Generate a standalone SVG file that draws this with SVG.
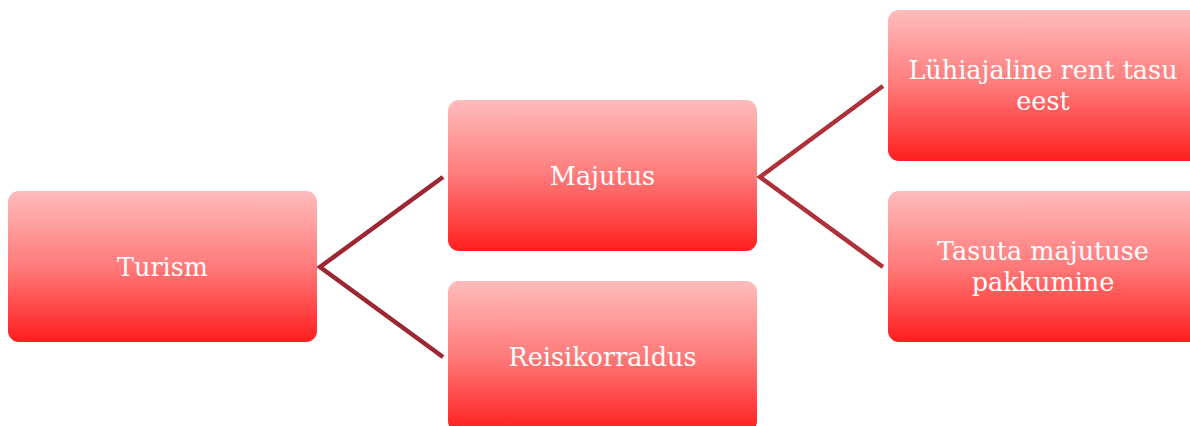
<svg xmlns="http://www.w3.org/2000/svg" width="1190" height="426" viewBox="0 0 1190 426">
<defs>
<linearGradient id="g" x1="0" y1="0" x2="0" y2="1">
<stop offset="0" stop-color="#ffbcbc"/>
<stop offset="0.5" stop-color="#ff7a7a"/>
<stop offset="1" stop-color="#ff1e1e"/>
</linearGradient>
</defs>
<style>
.box{fill:url(#g);}
.t{font-family:"DejaVu Serif","Liberation Serif",serif;font-size:25.5px;fill:#ffffff;text-anchor:middle;}
.c{stroke-width:4.5;fill:none;stroke-linejoin:miter;}
</style>
<g id="connectors">
<polyline class="c" stroke="#9c2631" points="443,177 320,267 443,357"/>
<polyline class="c" stroke="#ae3039" points="883,86 760,177 883,267"/>
</g>
<g id="n-turism"><rect class="box" x="8" y="191" width="309" height="151" rx="11"/><text class="t" x="162.5" y="276">Turism</text></g>
<g id="n-majutus"><rect class="box" x="448" y="100" width="309" height="151" rx="11"/><text class="t" x="602.5" y="185">Majutus</text></g>
<g id="n-reisikorraldus"><rect class="box" x="448" y="281" width="309" height="151" rx="11"/><text class="t" x="602.5" y="366">Reisikorraldus</text></g>
<g id="n-luhiajaline"><rect class="box" x="888" y="10" width="320" height="151" rx="11"/><text class="t" x="1043" y="79">Lühiajaline rent tasu</text><text class="t" x="1043" y="110">eest</text></g>
<g id="n-tasuta"><rect class="box" x="888" y="191" width="320" height="151" rx="11"/><text class="t" x="1043" y="260">Tasuta majutuse</text><text class="t" x="1043" y="291">pakkumine</text></g>
</svg>
